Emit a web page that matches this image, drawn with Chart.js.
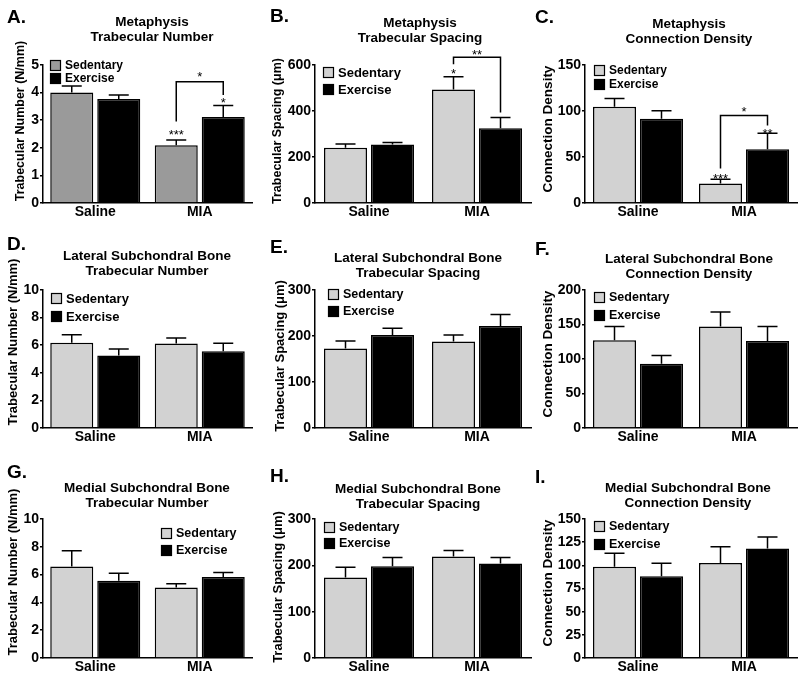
<!DOCTYPE html>
<html>
<head>
<meta charset="utf-8">
<script src="https://cdn.jsdelivr.net/npm/chart.js@4.4.0/dist/chart.umd.min.js"></script>
<style>
  html, body { margin: 0; padding: 0; background: #fff; }
  #fig { position: relative; width: 800px; height: 681px; }
  #fig canvas { position: absolute; left: 0; top: 0; }
</style>
</head>
<body>
<div id="fig"></div>
<script>
// categories / series
const groups = ['Saline', 'MIA'];
const seriesNames = ['Sedentary', 'Exercise'];

// A. Metaphysis - trabecular number (N/mm)
const metaTbNSed = [4.00, 2.09], metaTbNSedErr = [0.24, 0.19];
const metaTbNEx = [3.77, 3.12], metaTbNExErr = [0.14, 0.41];
const metaTbNTicks = [0, 5, 1];
const metaTbNStars = [{ group: 1, series: 0, y: 2.55, text: '***' }, { group: 1, series: 1, y: 3.73, text: '*' }];
const metaTbNBracket = [{ group: 1, top: 4.39, left: 2.95, right: 3.91, label: 4.66, text: '*' }];

// B. Metaphysis - trabecular spacing (um)
const metaTbSpSed = [240, 494], metaTbSpSedErr = [17, 55];
const metaTbSpEx = [254, 325], metaTbSpExErr = [9, 47];
const metaTbSpTicks = [0, 600, 200];
const metaTbSpStars = [{ group: 1, series: 0, y: 572, text: '*' }];
const metaTbSpBracket = [{ group: 1, top: 634, left: 603, right: 394, label: 653, text: '**' }];

// C. Metaphysis - connection density
const metaConnSed = [104.7, 21.2], metaConnSedErr = [8.9, 4.7];
const metaConnEx = [91.7, 58.3], metaConnExErr = [8.7, 17.6];
const metaConnTicks = [0, 150, 50];
const metaConnStars = [{ group: 1, series: 0, y: 28.4, text: '***' }, { group: 1, series: 1, y: 77.7, text: '**' }];
const metaConnBracket = [{ group: 1, top: 95, left: 37.4, right: 84.2, label: 102, text: '*' }];

// D. Lateral subchondral bone - trabecular number
const latTbNSed = [6.17, 6.12], latTbNSedErr = [0.58, 0.41];
const latTbNEx = [5.25, 5.57], latTbNExErr = [0.48, 0.57];
const latTbNTicks = [0, 10, 2];

// E. Lateral subchondral bone - trabecular spacing
const latTbSpSed = [173, 188], latTbSpSedErr = [16, 14];
const latTbSpEx = [202, 222], latTbSpExErr = [15, 25];
const latTbSpTicks = [0, 300, 100];

// F. Lateral subchondral bone - connection density
const latConnSed = [127, 147], latConnSedErr = [20, 21];
const latConnEx = [93, 126], latConnExErr = [12, 21];
const latConnTicks = [0, 200, 50];

// G. Medial subchondral bone - trabecular number
const medTbNSed = [6.59, 5.08], medTbNSedErr = [1.13, 0.27];
const medTbNEx = [5.56, 5.83], medTbNExErr = [0.53, 0.33];
const medTbNTicks = [0, 10, 2];

// H. Medial subchondral bone - trabecular spacing
const medTbSpSed = [174, 219], medTbSpSedErr = [22, 13];
const medTbSpEx = [198, 204], medTbSpExErr = [19, 13];
const medTbSpTicks = [0, 300, 100];

// I. Medial subchondral bone - connection density
const medConnSed = [98.6, 102.5], medConnSedErr = [14.4, 17.6];
const medConnEx = [88.1, 118.3], medConnExErr = [14.1, 12.3];
const medConnTicks = [0, 150, 25];

const FONT = "'Liberation Sans', Arial, Helvetica, sans-serif";
Chart.defaults.font.family = FONT;
Chart.defaults.color = '#000';

// error bars (upper half only) + significance marks
const errorBars = {
    id: 'errorBars',
    afterDatasetsDraw(chart) {
        const { ctx } = chart;
        const y = chart.scales.y;
        const o = chart.options.plugins.errorBars;
        ctx.save();
        ctx.strokeStyle = '#000';
        ctx.lineWidth = 1.5;
        chart.data.datasets.forEach((ds, di) => {
            chart.getDatasetMeta(di).data.forEach((bar, i) => {
                const top = y.getPixelForValue(ds.data[i] + ds.err[i]);
                ctx.beginPath();
                ctx.moveTo(bar.x, bar.y);
                ctx.lineTo(bar.x, top);
                ctx.moveTo(bar.x - 10, top);
                ctx.lineTo(bar.x + 10, top);
                ctx.stroke();
            });
        });
        ctx.fillStyle = '#000';
        ctx.font = '13px ' + FONT;
        ctx.textAlign = 'center';
        ctx.textBaseline = 'middle';
        (o.stars || []).forEach(s => {
            const bar = chart.getDatasetMeta(s.series).data[s.group];
            ctx.fillText(s.text, bar.x, y.getPixelForValue(s.y) + 3);
        });
        (o.brackets || []).forEach(b => {
            const x1 = chart.getDatasetMeta(0).data[b.group].x;
            const x2 = chart.getDatasetMeta(1).data[b.group].x;
            const yt = y.getPixelForValue(b.top);
            ctx.beginPath();
            ctx.moveTo(x1, y.getPixelForValue(b.left));
            ctx.lineTo(x1, yt);
            ctx.lineTo(x2, yt);
            ctx.lineTo(x2, y.getPixelForValue(b.right));
            ctx.stroke();
            ctx.fillText(b.text, (x1 + x2) / 2, y.getPixelForValue(b.label) + 3);
        });
        ctx.restore();
    }
};

// panel letter, title, y title, legend
const decor = {
    id: 'decor',
    afterDraw(chart) {
        const o = chart.options.plugins.decor;
        const ctx = chart.ctx;
        ctx.save();
        ctx.fillStyle = '#000';
        ctx.textBaseline = 'alphabetic';
        ctx.textAlign = 'left';
        ctx.font = 'bold 19px ' + FONT;
        ctx.fillText(o.letter, o.letterPos[0], o.letterPos[1]);

        ctx.textAlign = 'center';
        ctx.font = 'bold 13.5px ' + FONT;
        o.title.forEach((t, i) => ctx.fillText(t, o.titlePos[0], o.titlePos[1] + i * 15));

        ctx.save();
        ctx.translate(o.yTitlePos[0], o.yTitlePos[1]);
        ctx.rotate(-Math.PI / 2);
        ctx.textBaseline = 'middle';
        ctx.font = `bold ${o.yTitleSize}px ` + FONT;
        ctx.fillText(o.yTitle, 0, 0);
        ctx.restore();

        const [lx, ly, gap, fs] = o.legend;
        ctx.textAlign = 'left';
        ctx.textBaseline = 'middle';
        ctx.font = `bold ${fs}px ` + FONT;
        ctx.lineWidth = 1.2;
        ctx.strokeStyle = '#000';
        chart.data.datasets.forEach((ds, i) => {
            const by = ly + i * gap;
            ctx.fillStyle = ds.backgroundColor;
            ctx.fillRect(lx, by, 11, 11);
            ctx.strokeRect(lx + 0.5, by + 0.5, 10, 10);
            ctx.fillStyle = '#000';
            ctx.fillText(ds.label, lx + 15, by + 6);
        });
        ctx.restore();
    }
};

const LIGHT = '#d2d2d2', MID = '#9a9a9a', DARK = '#000000';

const panels = [
    { letter: 'A.', letterPos: [7, 23], title: ['Metaphysis', 'Trabecular Number'], titlePos: [152, 26],
      yTitle: 'Trabecular Number (N/mm)', yTitlePos: [21, 121], yTitleSize: 12.5, legend: [50, 60, 13, 12],
      area: [43, 65, 252, 203], ticks: metaTbNTicks, sedColor: MID,
      sed: metaTbNSed, sedErr: metaTbNSedErr, ex: metaTbNEx, exErr: metaTbNExErr, stars: metaTbNStars, brackets: metaTbNBracket },
    { letter: 'B.', letterPos: [270, 22], title: ['Metaphysis', 'Trabecular Spacing'], titlePos: [420, 27],
      yTitle: 'Trabecular Spacing (\u03bcm)', yTitlePos: [278, 131], yTitleSize: 12.5, legend: [323, 67, 17, 13],
      area: [315, 65, 531, 203], ticks: metaTbSpTicks, sedColor: LIGHT,
      sed: metaTbSpSed, sedErr: metaTbSpSedErr, ex: metaTbSpEx, exErr: metaTbSpExErr, stars: metaTbSpStars, brackets: metaTbSpBracket },
    { letter: 'C.', letterPos: [535, 23], title: ['Metaphysis', 'Connection Density'], titlePos: [689, 28],
      yTitle: 'Connection Density', yTitlePos: [548, 129], yTitleSize: 13.5, legend: [594, 65, 14, 12],
      area: [585, 65, 797, 203], ticks: metaConnTicks, sedColor: LIGHT,
      sed: metaConnSed, sedErr: metaConnSedErr, ex: metaConnEx, exErr: metaConnExErr, stars: metaConnStars, brackets: metaConnBracket },
    { letter: 'D.', letterPos: [7, 250], title: ['Lateral Subchondral Bone', 'Trabecular Number'], titlePos: [147, 260],
      yTitle: 'Trabecular Number (N/mm)', yTitlePos: [13, 342], yTitleSize: 13, legend: [51, 293, 18, 13],
      area: [43, 290, 252, 428], ticks: latTbNTicks, sedColor: LIGHT,
      sed: latTbNSed, sedErr: latTbNSedErr, ex: latTbNEx, exErr: latTbNExErr },
    { letter: 'E.', letterPos: [270, 253], title: ['Lateral Subchondral Bone', 'Trabecular Spacing'], titlePos: [418, 262],
      yTitle: 'Trabecular Spacing (\u03bcm)', yTitlePos: [280, 356], yTitleSize: 13, legend: [328, 289, 17, 12.5],
      area: [315, 290, 531, 428], ticks: latTbSpTicks, sedColor: LIGHT,
      sed: latTbSpSed, sedErr: latTbSpSedErr, ex: latTbSpEx, exErr: latTbSpExErr },
    { letter: 'F.', letterPos: [535, 255], title: ['Lateral Subchondral Bone', 'Connection Density'], titlePos: [689, 263],
      yTitle: 'Connection Density', yTitlePos: [548, 354], yTitleSize: 13.5, legend: [594, 292, 18, 12.5],
      area: [585, 290, 797, 428], ticks: latConnTicks, sedColor: LIGHT,
      sed: latConnSed, sedErr: latConnSedErr, ex: latConnEx, exErr: latConnExErr },
    { letter: 'G.', letterPos: [7, 478], title: ['Medial Subchondral Bone', 'Trabecular Number'], titlePos: [147, 492],
      yTitle: 'Trabecular Number (N/mm)', yTitlePos: [13, 572], yTitleSize: 13, legend: [161, 528, 17, 12.5],
      area: [43, 519, 252, 658], ticks: medTbNTicks, sedColor: LIGHT,
      sed: medTbNSed, sedErr: medTbNSedErr, ex: medTbNEx, exErr: medTbNExErr },
    { letter: 'H.', letterPos: [270, 482], title: ['Medial Subchondral Bone', 'Trabecular Spacing'], titlePos: [418, 493],
      yTitle: 'Trabecular Spacing (\u03bcm)', yTitlePos: [278, 587], yTitleSize: 13, legend: [324, 522, 16, 12.5],
      area: [315, 519, 531, 658], ticks: medTbSpTicks, sedColor: LIGHT,
      sed: medTbSpSed, sedErr: medTbSpSedErr, ex: medTbSpEx, exErr: medTbSpExErr },
    { letter: 'I.', letterPos: [535, 483], title: ['Medial Subchondral Bone', 'Connection Density'], titlePos: [688, 492],
      yTitle: 'Connection Density', yTitlePos: [548, 583], yTitleSize: 13.5, legend: [594, 521, 18, 12.5],
      area: [585, 519, 797, 658], ticks: medConnTicks, sedColor: LIGHT,
      sed: medConnSed, sedErr: medConnSedErr, ex: medConnEx, exErr: medConnExErr }
];

const W = 800, H = 681, Y_W = 40, X_H = 20;
const fig = document.getElementById('fig');

panels.forEach(p => {
    const canvas = document.createElement('canvas');
    canvas.width = W;
    canvas.height = H;
    fig.appendChild(canvas);

    const [L, T, R, B] = p.area;
    const catW = (R - L) / 2;
    const [yMin, yMax, yStep] = p.ticks;

    new Chart(canvas, {
        type: 'bar',
        data: {
            labels: groups,
            datasets: [
                { label: seriesNames[0], data: p.sed, err: p.sedErr, backgroundColor: p.sedColor },
                { label: seriesNames[1], data: p.ex, err: p.exErr, backgroundColor: DARK }
            ]
        },
        options: {
            responsive: false,
            animation: false,
            devicePixelRatio: 1,
            layout: { padding: { left: L - Y_W, top: T, right: W - R, bottom: H - B - X_H } },
            datasets: {
                bar: {
                    borderColor: '#000',
                    borderWidth: 1.5,
                    categoryPercentage: 94 / catW,
                    barPercentage: 43 / 47
                }
            },
            scales: {
                x: {
                    afterFit: s => { s.height = X_H; },
                    grid: { display: true, drawOnChartArea: false, drawTicks: false },
                    border: { display: true, color: '#000', width: 1.5 },
                    ticks: { padding: 1, font: { size: 14, weight: 'bold' }, color: '#000' }
                },
                y: {
                    min: yMin, max: yMax,
                    afterFit: s => { s.width = Y_W; },
                    grid: { drawOnChartArea: false, drawTicks: true, tickLength: 3, color: '#000', lineWidth: 1.5 },
                    border: { display: true, color: '#000', width: 1.5 },
                    ticks: { stepSize: yStep, padding: 1, font: { size: 14, weight: 'bold' }, color: '#000' }
                }
            },
            plugins: {
                legend: { display: false },
                title: { display: false },
                tooltip: { enabled: false },
                errorBars: { stars: p.stars, brackets: p.brackets },
                decor: p
            }
        },
        plugins: [errorBars, decor]
    });
});
</script>
</body>
</html>
